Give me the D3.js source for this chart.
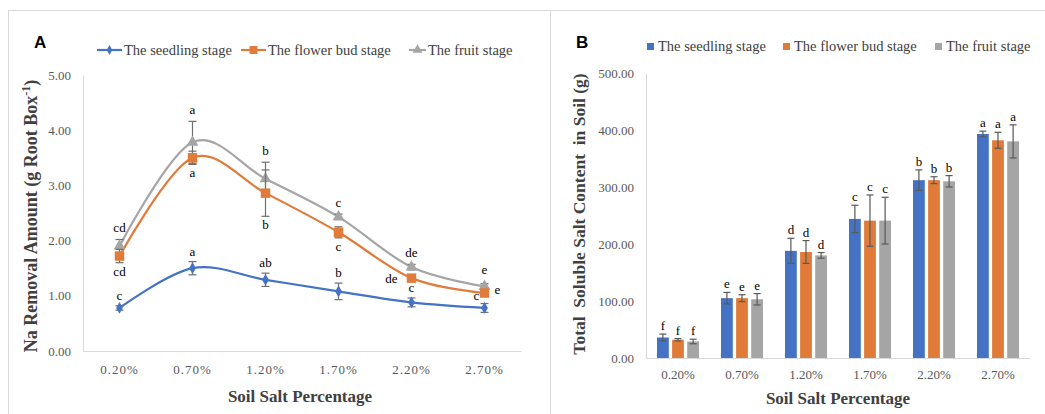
<!DOCTYPE html>
<html>
<head>
<meta charset="utf-8">
<script src="https://cdn.jsdelivr.net/npm/d3@7"></script>
<style>
body{margin:0;background:#fff;}
text{font-family:"Liberation Serif","Times New Roman",serif;}
</style>
</head>
<body>
<div id="chart"></div>
<script>
var categories = ["0.20%","0.70%","1.20%","1.70%","2.20%","2.70%"];
var seriesNames = ["The seedling stage","The flower bud stage","The fruit stage"];
var colors = ["#4472C4","#E07B39","#A5A5A5"];

// panel A - Na removal amount
var naSeedling = [0.78,1.50,1.29,1.08,0.88,0.78];
var naSeedlingErr = [0.04,0.12,0.12,0.15,0.08,0.08];
var naFlower = [1.72,3.50,2.86,2.15,1.32,1.05];
var naFlowerErr = [0.12,0.12,0.42,0.10,0.05,0.05];
var naFruit = [1.90,3.78,3.12,2.43,1.52,1.17];
var naFruitErr = [0.12,0.38,0.30,0.05,0.05,0.05];
var naLetters = [["c","a","ab","b","c","c"],["cd","a","b","c","de","e"],["cd","a","b","c","de","e"]];
var yTicksA = [0,1,2,3,4,5];

// panel B - total soluble salt
var saltSeedling = [36,105,188,244,312,393];
var saltSeedlingErr = [6,10,22,24,18,5];
var saltFlower = [32,105,186,241,312,382];
var saltFlowerErr = [2,6,20,45,6,14];
var saltFruit = [29,103,180,241,310,380];
var saltFruitErr = [4,10,5,41,10,29];
var saltLetters = ["f","e","d","c","b","a"];
var yTicksB = [0,100,200,300,400,500];

var svg = d3.select("#chart").append("svg")
    .attr("width",1045).attr("height",414);

// panel frames
svg.append("rect").attr("x",8.5).attr("y",10.5).attr("width",542).attr("height",410)
    .attr("fill","none").attr("stroke","#d9d9d9");
svg.append("rect").attr("x",550.5).attr("y",10.5).attr("width",500).attr("height",410)
    .attr("fill","none").attr("stroke","#d9d9d9");

var axisColor = "#d9d9d9", tickColor = "#595959";

// ---------- Panel A ----------
var mA = {l:83, r:521, t:75, b:351};
var xA = d3.scaleBand().domain(categories).range([mA.l,mA.r]);
var yA = d3.scaleLinear().domain([0,5]).range([mA.b,mA.t]);

var gA = svg.append("g");
gA.append("text").attr("x",34).attr("y",48).text("A")
    .style("font-family","Liberation Sans, Arial, sans-serif").style("font-weight","bold").style("font-size","17px");

var axA = gA.append("g").attr("transform","translate(" + mA.l + ",0)")
    .call(d3.axisLeft(yA).tickValues(yTicksA).tickFormat(d3.format(".2f")).tickSize(0).tickPadding(12));
axA.select(".domain").attr("stroke",axisColor);
axA.selectAll("text").attr("fill",tickColor).style("font-size","13px").style("font-family","Liberation Serif, serif");

var axAx = gA.append("g").attr("transform","translate(0," + mA.b + ")")
    .call(d3.axisBottom(xA).tickSize(0).tickPadding(14));
axAx.select(".domain").attr("stroke",axisColor);
axAx.selectAll("text").attr("fill",tickColor).style("font-size","13px").style("letter-spacing","1px").style("font-family","Liberation Serif, serif");

gA.append("text").attr("transform","translate(37,216) rotate(-90)")
    .attr("text-anchor","middle").attr("fill","#404040")
    .style("font-weight","bold").style("font-size","18px")
    .html('Na Removal Amount (g Root Box<tspan dy="-7" font-size="12px">-1</tspan><tspan dy="7">)</tspan>');
gA.append("text").attr("x",300).attr("y",402).attr("text-anchor","middle").attr("fill","#404040")
    .style("font-weight","bold").style("font-size","17px").text("Soil Salt Percentage");

var naSeries = [
    {vals:naSeedling, err:naSeedlingErr, sym:d3.symbolDiamond, size:40},
    {vals:naFlower, err:naFlowerErr, sym:d3.symbolSquare, size:90},
    {vals:naFruit, err:naFruitErr, sym:d3.symbolTriangle, size:60}
];
var cx = function(i){ return xA(categories[i]) + xA.bandwidth()/2; };
var lineA = d3.line().curve(d3.curveCatmullRom.alpha(0))
    .x(function(d,i){ return cx(i); })
    .y(function(d){ return yA(d); });

// draw in order fruit, flower, seedling so lines layer like reference
[2,1,0].forEach(function(s){
    var ser = naSeries[s];
    gA.append("path").attr("d",lineA(ser.vals)).attr("fill","none")
        .attr("stroke",colors[s]).attr("stroke-width",2.2);
});
[2,1,0].forEach(function(s){
    var ser = naSeries[s];
    var g = gA.append("g");
    ser.vals.forEach(function(v,i){
        var x = cx(i);
        g.append("line").attr("x1",x).attr("x2",x).attr("y1",yA(v-ser.err[i])).attr("y2",yA(v+ser.err[i]))
            .attr("stroke","#6f6f6f").attr("stroke-width",1.2);
        [v-ser.err[i], v+ser.err[i]].forEach(function(e){
            g.append("line").attr("x1",x-4).attr("x2",x+4).attr("y1",yA(e)).attr("y2",yA(e))
                .attr("stroke","#6f6f6f").attr("stroke-width",1.2);
        });
        g.append("path").attr("d",d3.symbol().type(ser.sym).size(ser.size)())
            .attr("transform","translate(" + x + "," + yA(v) + ")").attr("fill",colors[s]);
    });
});

// letters for panel A
var letterPos = [
    // seedling: above, last one sits left of the flower bud square
    function(i,v,e){
        if(i==5) return {dx:-8, y:yA(v)-8};
        return {dx:0, y:yA(v+e)-6};
    },
    // flower bud: below, except 2.20 (left) and 2.70 (right)
    function(i,v,e){
        if(i==4) return {dx:-20, y:yA(v)+5};
        if(i==5) return {dx:13, y:yA(v)+1};
        return {dx:0, y:yA(v-e)+13};
    },
    // fruit: above
    function(i,v,e){
        if(i==5) return {dx:0, y:yA(v+e)-10};
        return {dx:0, y:yA(v+e)-7};
    }
];
naSeries.forEach(function(ser,s){
    ser.vals.forEach(function(v,i){
        var p = letterPos[s](i,v,ser.err[i]);
        gA.append("text").attr("x",cx(i)+p.dx).attr("y",p.y).attr("text-anchor","middle")
            .attr("fill","#000").style("font-size","13px").text(naLetters[s][i]);
    });
});

// legend A
var legA = [{x:97,tx:124},{x:241,tx:268},{x:409,tx:428}];
legA.forEach(function(l,s){
    var ly = 50;
    gA.append("line").attr("x1",l.x).attr("x2",l.tx-2).attr("y1",ly).attr("y2",ly)
        .attr("stroke",colors[s]).attr("stroke-width",2.2);
    gA.append("path").attr("d",d3.symbol().type(naSeries[s].sym).size(naSeries[s].size*0.7)())
        .attr("transform","translate(" + ((l.x+l.tx-2)/2) + "," + ly + ")").attr("fill",colors[s]);
    gA.append("text").attr("x",l.tx).attr("y",ly+5).attr("fill","#404040")
        .style("font-size","14.5px").text(seriesNames[s]);
});

// ---------- Panel B ----------
var mB = {l:646, r:1030, t:73, b:358};
var xB = d3.scaleBand().domain(categories).range([mB.l,mB.r]);
var yB = d3.scaleLinear().domain([0,500]).range([mB.b,mB.t]);
var xSub = d3.scaleBand().domain([0,1,2]).range([0,42]).paddingInner(0.22);

var gB = svg.append("g");
gB.append("text").attr("x",576).attr("y",48).text("B")
    .style("font-family","Liberation Sans, Arial, sans-serif").style("font-weight","bold").style("font-size","17px");

var axB = gB.append("g").attr("transform","translate(" + mB.l + ",0)")
    .call(d3.axisLeft(yB).tickValues(yTicksB).tickFormat(d3.format(".2f")).tickSize(0).tickPadding(12));
axB.select(".domain").attr("stroke",axisColor);
axB.selectAll("text").attr("fill",tickColor).style("font-size","13px").style("font-family","Liberation Serif, serif");

var axBx = gB.append("g").attr("transform","translate(0," + mB.b + ")")
    .call(d3.axisBottom(xB).tickSize(0).tickPadding(12));
axBx.select(".domain").attr("stroke",axisColor);
axBx.selectAll("text").attr("fill",tickColor).style("font-size","13px").style("font-family","Liberation Serif, serif");

gB.append("text").attr("transform","translate(585,214) rotate(-90)")
    .attr("text-anchor","middle").attr("fill","#404040")
    .style("font-weight","bold").style("font-size","17.5px").style("white-space","pre")
    .text("Total  Soluble Salt Content  in Soil (g)");
gB.append("text").attr("x",838).attr("y",404).attr("text-anchor","middle").attr("fill","#404040")
    .style("font-weight","bold").style("font-size","17px").text("Soil Salt Percentage");

var saltSeries = [
    {vals:saltSeedling, err:saltSeedlingErr},
    {vals:saltFlower, err:saltFlowerErr},
    {vals:saltFruit, err:saltFruitErr}
];
saltSeries.forEach(function(ser,s){
    ser.vals.forEach(function(v,i){
        var x0 = xB(categories[i]) + (xB.bandwidth()-42)/2 + xSub(s);
        var w = xSub.bandwidth();
        var xc = x0 + w/2;
        gB.append("rect").attr("x",x0).attr("y",yB(v)).attr("width",w).attr("height",yB(0)-yB(v))
            .attr("fill",colors[s]);
        var lo = yB(v-ser.err[i]), hi = yB(v+ser.err[i]);
        gB.append("line").attr("x1",xc).attr("x2",xc).attr("y1",lo).attr("y2",hi)
            .attr("stroke","#595959").attr("stroke-width",1.2);
        [lo,hi].forEach(function(yy){
            gB.append("line").attr("x1",xc-3.5).attr("x2",xc+3.5).attr("y1",yy).attr("y2",yy)
                .attr("stroke","#595959").attr("stroke-width",1.2);
        });
        gB.append("text").attr("x",xc).attr("y",hi-4).attr("text-anchor","middle")
            .attr("fill","#000").style("font-size","13px").text(saltLetters[i]);
    });
});

// legend B
var legB = [647,783,935];
legB.forEach(function(lx,s){
    gB.append("rect").attr("x",lx).attr("y",43).attr("width",7).attr("height",7).attr("fill",colors[s]);
    gB.append("text").attr("x",lx+11).attr("y",51).attr("fill","#404040")
        .style("font-size","14.5px").text(seriesNames[s]);
});
</script>
</body>
</html>
